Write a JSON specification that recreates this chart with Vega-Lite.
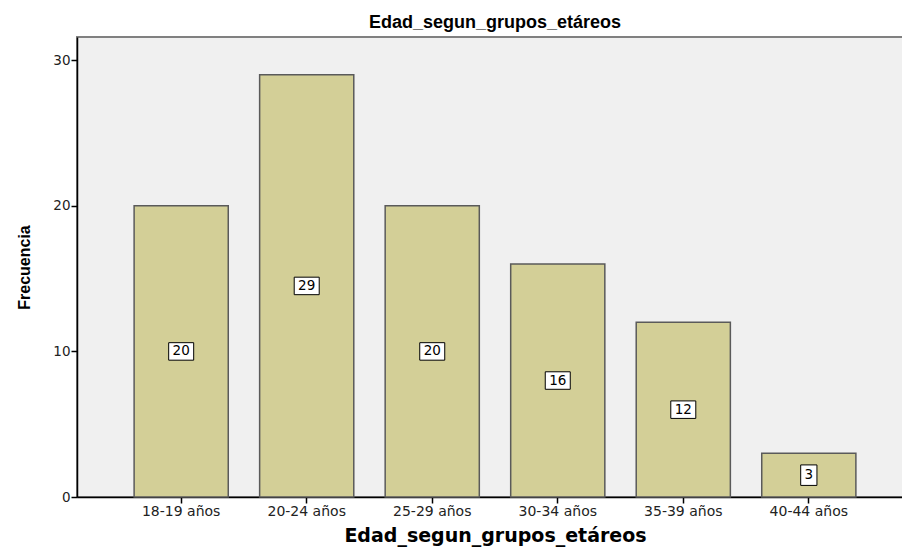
{
  "$schema": "https://vega.github.io/schema/vega-lite/v6.json",
  "width": 826,
  "height": 460,
  "autosize": "none",
  "padding": {"left": 77, "top": 37, "right": 0, "bottom": 52},
  "background": "white",
  "title": {"text": "Edad_segun_grupos_etáreos", "font": "Liberation Sans", "fontSize": 18, "fontWeight": "bold", "color": "black", "anchor": "middle", "offset": 5, "dx": 5},
  "config": {"view": {"fill": "#f0f0f0", "stroke": "#808080", "strokeWidth": 2}},
  "data": {"values": [
    {"grupo": "18-19 años", "n": 20},
    {"grupo": "20-24 años", "n": 29},
    {"grupo": "25-29 años", "n": 20},
    {"grupo": "30-34 años", "n": 16},
    {"grupo": "35-39 años", "n": 12},
    {"grupo": "40-44 años", "n": 3}
  ]},
  "encoding": {
    "x": {"field": "grupo", "type": "nominal", "sort": null,
      "scale": {"range": [0, 836], "paddingInner": 0.25, "paddingOuter": 0.455},
      "axis": {"labelAngle": 0, "domainColor": "black", "domainWidth": 1.5, "tickColor": "black", "tickSize": 6, "tickWidth": 1.5,
        "labelFont": "DejaVu Sans", "labelFontSize": 14, "labelColor": "#222", "labelPadding": 1,
        "title": "Edad_segun_grupos_etáreos", "titleFont": "DejaVu Sans", "titleFontSize": 19, "titleFontWeight": "bold", "titleColor": "black", "titlePadding": 8}}
  },
  "layer": [
    {"mark": {"type": "bar", "fill": "#d3cf97", "stroke": "#5a5a5a", "strokeWidth": 1.5},
     "encoding": {"y": {"field": "n", "type": "quantitative", "scale": {"domain": [0, 31.6], "nice": false},
       "axis": {"values": [0, 10, 20, 30], "grid": false, "domainColor": "black", "domainWidth": 1.5, "tickColor": "black", "tickSize": 6, "tickWidth": 1.5,
         "labelFont": "DejaVu Sans", "labelFontSize": 13.5, "labelColor": "#222", "labelPadding": 1,
         "title": "Frecuencia", "titleFont": "Liberation Sans", "titleFontSize": 16, "titleFontWeight": "bold", "titleColor": "black", "titlePadding": 20}}}},
    {"transform": [{"calculate": "datum.n/2", "as": "mid"}],
     "mark": {"type": "point", "filled": true, "fill": "white", "stroke": "black", "strokeWidth": 1, "opacity": 1, "size": 625},
     "encoding": {"y": {"field": "mid", "type": "quantitative"},
       "shape": {"condition": {"test": "datum.n < 10", "value": "M-0.65,-0.82H0.65V0.82H-0.65Z"}, "value": "M-1,-0.7H1V0.7H-1Z"}}},
    {"transform": [{"calculate": "datum.n/2", "as": "mid"}],
     "mark": {"type": "text", "font": "DejaVu Sans", "fontSize": 13.5, "color": "black", "baseline": "middle", "align": "center"},
     "encoding": {"y": {"field": "mid", "type": "quantitative"}, "text": {"field": "n", "type": "quantitative"}}}
  ]
}
